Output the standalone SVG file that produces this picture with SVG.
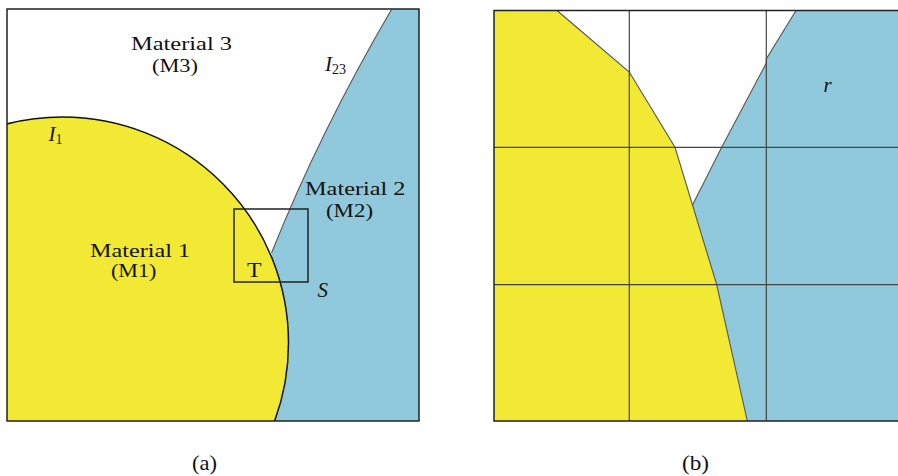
<svg xmlns="http://www.w3.org/2000/svg" width="898" height="476" viewBox="0 0 898 476">
<style>
  .yel { fill: #F1E934; }
  .blu { fill: #8FC9DB; }
  .frame { fill: none; stroke: #222; stroke-width: 1.5; }
  .iface { fill: none; stroke: #111; stroke-width: 1.5; }
  .thin { fill: none; stroke: #555; stroke-width: 1.1; }
  .grid { fill: none; stroke: #444; stroke-width: 1.2; }
  .t { font-family: "Liberation Serif", "Times New Roman", serif; font-size: 21px; fill: #111; }
  .m { font-size: 19.2px; }
  .it { font-style: italic; }
  .sub { font-size: 14px; font-style: normal; }
</style>
<defs>
  <clipPath id="clipA"><rect x="7" y="9" width="412" height="412"/></clipPath>
</defs>
<rect x="0" y="0" width="898" height="476" fill="#fff"/>

<!-- Panel (a) -->
<g id="panelA">
  <g id="material2" clip-path="url(#clipA)">
    <path class="blu" d="M391.5,9 L420,9 L420,422 L270,422 L271.5,253 Q320.4,130.75 391.5,9 Z"/>
  </g>
  <g id="material1" clip-path="url(#clipA)">
    <circle class="yel" cx="62.5" cy="343" r="226"/>
    <circle class="iface" cx="62.5" cy="343" r="226"/>
  </g>
  <g id="interface23">
    <path class="thin" d="M391.5,9.5 Q320.4,130.75 271.5,253"/>
  </g>
  <rect id="frameA" class="frame" x="7" y="9" width="412" height="412"/>
  <rect id="boxT" class="frame" x="234" y="209" width="74" height="73"/>
  <g id="labelsA">
    <text class="t m" x="131" y="50" textLength="101" lengthAdjust="spacingAndGlyphs">Material 3</text>
    <text class="t m" x="152" y="71.5" textLength="46" lengthAdjust="spacingAndGlyphs">(M3)</text>
    <text class="t m" x="90" y="256.5" textLength="100" lengthAdjust="spacingAndGlyphs">Material 1</text>
    <text class="t m" x="111" y="277" textLength="45.5" lengthAdjust="spacingAndGlyphs">(M1)</text>
    <text class="t m" x="305" y="195" textLength="100.5" lengthAdjust="spacingAndGlyphs">Material 2</text>
    <text class="t m" x="326" y="216.5" textLength="47" lengthAdjust="spacingAndGlyphs">(M2)</text>
    <text class="t" x="247" y="277" textLength="14.5" lengthAdjust="spacingAndGlyphs">T</text>
    <text class="t it" x="48.5" y="141">I<tspan class="sub" dy="2.5">1</tspan></text>
    <text class="t it" x="325" y="71">I<tspan class="sub" dy="3">23</tspan></text>
    <text class="t it" x="317.5" y="297">S</text>
  </g>
</g>

<!-- Panel (b) -->
<g id="panelB">
  <path id="cellYellow" class="yel" d="M494,10.5 L557,10.5 L629.3,72 L675,147.3 L716.7,284.7 L747.3,421 L494,421 Z"/>
  <path id="cellBlue" class="blu" d="M796,10.5 L905,10.5 L905,421 L747.3,421 L716.7,284.7 L692.5,205 L721.7,147.3 L766.3,63 L766.3,59 Z"/>
  <g id="interfacesB">
    <path class="thin" d="M557,10.5 L629.3,72 L675,147.3 L716.7,284.7 L747.3,421"/>
    <path class="thin" d="M796,10.5 L766.3,59 L766.3,63 L721.7,147.3 L692.5,205"/>
  </g>
  <g id="gridB">
    <line class="grid" x1="629.3" y1="10.5" x2="629.3" y2="421"/>
    <line class="grid" x1="766.3" y1="10.5" x2="766.3" y2="421"/>
    <line class="grid" x1="494" y1="147.3" x2="905" y2="147.3"/>
    <line class="grid" x1="494" y1="284.7" x2="905" y2="284.7"/>
  </g>
  <rect id="frameB" class="frame" x="494" y="10.5" width="412" height="410.5"/>
  <text class="t it" x="823.5" y="91.5">r</text>
</g>

<text id="captionA" class="t" x="192" y="469.5" textLength="25" lengthAdjust="spacingAndGlyphs">(a)</text>
<text id="captionB" class="t" x="682" y="469.5" textLength="27" lengthAdjust="spacingAndGlyphs">(b)</text>
</svg>
